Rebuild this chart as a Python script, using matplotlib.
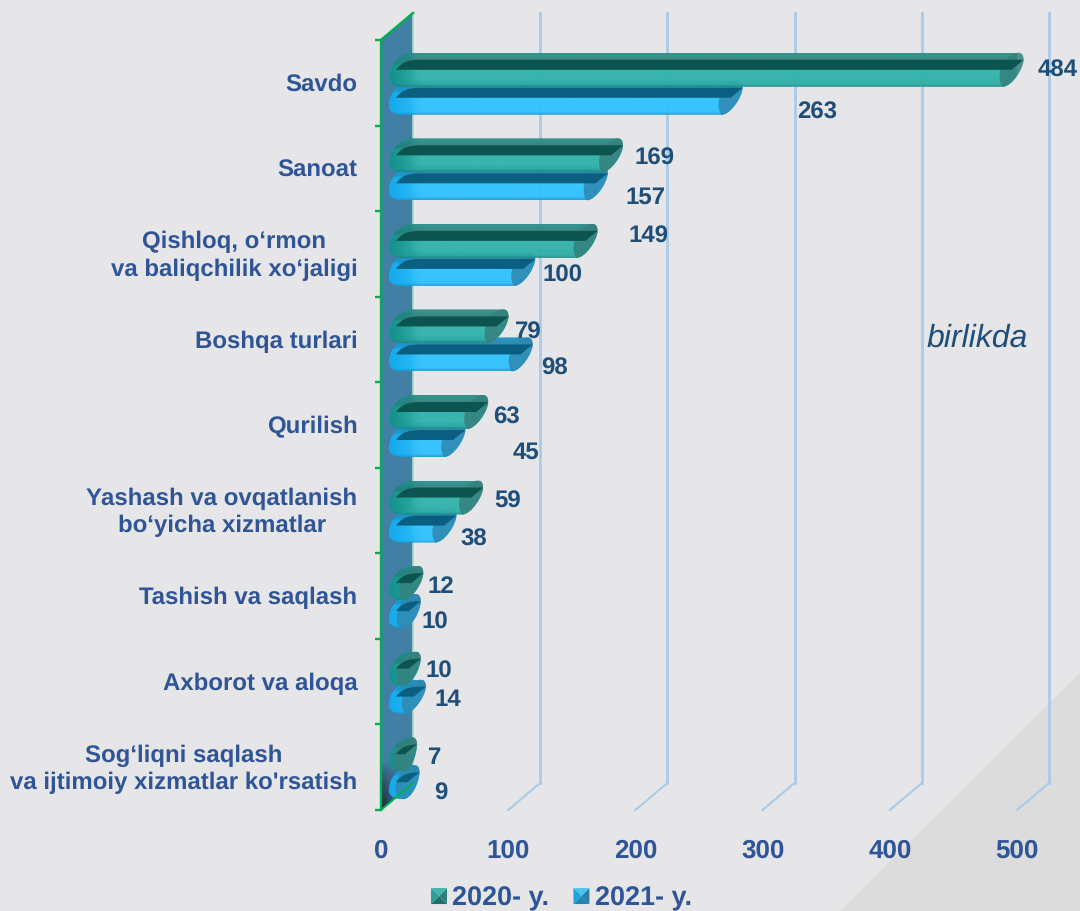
import numpy as np
import matplotlib
matplotlib.use("Agg")
import matplotlib.pyplot as plt
from matplotlib.path import Path
from matplotlib.patches import PathPatch, Polygon, Patch
from matplotlib.colors import LinearSegmentedColormap, to_rgba
from matplotlib.legend_handler import HandlerBase
from matplotlib.transforms import ScaledTranslation

categories = ["Savdo", "Sanoat", "Qishloq, o‘rmon\nva baliqchilik xo‘jaligi", "Boshqa turlari",
              "Qurilish", "Yashash va ovqatlanish\nbo‘yicha xizmatlar", "Tashish va saqlash",
              "Axborot va aloqa", "Sog‘liqni saqlash\nva ijtimoiy xizmatlar ko'rsatish"]
values_2020 = [484, 169, 149, 79, 63, 59, 12, 10, 7]
values_2021 = [263, 157, 100, 98, 45, 38, 10, 14, 9]
series_names = ["2020- y.", "2021- y."]
x_ticks = [0, 100, 200, 300, 400, 500]

# Layout (pixels of the 1080x911 canvas)
W, H = 1080, 911
AX_L, AX_R, AX_T, AX_B = 381, 1017, 40, 810
DX, DY = 32, 27
UX = 500 / (AX_R - AX_L)   # data units per pixel
UY = 9 / (AX_B - AX_T)
BLUE_TXT = "#2f5597"
NAVY_TXT = "#1f4e79"
GRID = "#a9cbea"
GREEN = "#00b050"
TEAL = dict(strip=["#2b8f8a", "#38807c"], band="#0b5450", body=["#1f9a94", "#31b3ab", "#2fafa8", "#1e8a85"],
            cap="#35807c", left="#0f8a85")
SKY = dict(strip=["#1b8fc0", "#2a86ad"], band="#0a5f80", body=["#1aa5e0", "#30c3ff", "#2fc0ff", "#1a9ad0"],
           cap="#2f88b0", left="#0ea5e8")
# value-label offset from the bar's data end, pixels (dx, dy from row centre)
LABEL_2020 = [(34, -12), (32, -10), (51, -17), (20, -7), (18, -7), (25, -9), (18, -9), (18, -10), (18, -9)]
LABEL_2021 = [(75, 30), (38, 29), (27, 22), (22, 29), (61, 28), (17, 29), (14, 26), (22, 18), (21, 26)]

plt.rcParams["font.family"] = ["Liberation Sans", "DejaVu Sans"]
plt.rcParams["text.hinting"] = "no_hinting"
plt.rcParams["text.hinting_factor"] = 1
plt.rcParams["text.kerning_factor"] = 0
fig = plt.figure(figsize=(W / 100, H / 100), dpi=100, facecolor="#e6e6e8")

# Soft diagonal background shape
bg = fig.add_axes([0, 0, 1, 1], zorder=0)
bg.set_xlim(0, W); bg.set_ylim(H, 0); bg.axis("off")
bg.add_patch(Polygon([(W, 673), (W, H), (840, H)], closed=True, fc="#dcdcdd", ec="none"))

ax = fig.add_axes([AX_L / W, 1 - AX_B / H, (AX_R - AX_L) / W, (AX_B - AX_T) / H], zorder=1)
ax.patch.set_alpha(0)
ax.set_xlim(0, 500)
ax.set_ylim(9, 0)
n = len(categories)
ddx, ddy = DX * UX, DY * UY


def gradient(path, colors, x0, x1, y0, y1, zorder, alpha=1.0):
    cmap = LinearSegmentedColormap.from_list("g", colors)
    im = ax.imshow(np.linspace(0, 1, 128).reshape(-1, 1), extent=[x0, x1, y1, y0], aspect="auto",
                   cmap=cmap, vmin=0, vmax=1, zorder=zorder, alpha=alpha, origin="upper")
    im.set_clip_path(PathPatch(path, transform=ax.transData))
    return im


# Side wall
wall = Path([(0, 0), (ddx, -ddy), (ddx, n - ddy), (0, n), (0, 0)])
ax.add_patch(PathPatch(wall, fc="#427fa4", ec="none", zorder=1, clip_on=False))
shade = np.zeros((64, 64, 4))
shade[..., :3] = (0.09, 0.14, 0.2)
shade[..., 3] = np.outer(np.linspace(0, 1, 64) ** 0.7, np.linspace(1, 0, 64) ** 1.2)
dark = ax.imshow(shade, extent=[0, 20, n, n - 48 * UY], aspect="auto", zorder=1.5, origin="upper")
dark.set_clip_path(PathPatch(wall, transform=ax.transData))
ax.plot([ddx, ddx], [-ddy, n - ddy], color="#a6dcc6", lw=1.2, zorder=1.6, clip_on=False)

# Gridlines on the back wall and floor
for t in x_ticks[1:]:
    ax.plot([t + ddx, t + ddx], [n - ddy, -ddy], color=GRID, lw=2.0, zorder=2, clip_on=False)
    ax.plot([t, t + ddx], [n, n - ddy], color=GRID, lw=1.5, zorder=2, clip_on=False)
ax.plot([0, ddx], [0, -ddy], color=GREEN, lw=1.8, zorder=6, clip_on=False)
ax.plot([0, ddx], [n, n - ddy], color=GREEN, lw=1.4, zorder=6, clip_on=False)


def px(dx):
    return dx * UX


def py(dy):
    return dy * UY


def draw_bar(v, top, st, z):
    """Slanted capsule: v in data units, top in row units."""
    L = px(8)
    R = v + px(27)
    b = top + py(34)
    xbr = max(R - px(21), L + px(14))
    xtl = min(L + px(24), R - px(4))
    sil = Path(
        [(L + px(14), b), (xbr, b),
         (xbr + px(9), b), (R, b - py(18)), (R, b - py(27)),
         (R, b - py(32)), (R - px(2), top), (R - px(5), top),
         (xtl, top),
         (L + px(11), top), (L, top + py(12)), (L, top + py(25)),
         (L, top + py(31)), (L + px(6), b), (L + px(14), b), (L + px(14), b)],
        [Path.MOVETO, Path.LINETO, Path.CURVE4, Path.CURVE4, Path.CURVE4, Path.CURVE4, Path.CURVE4, Path.CURVE4,
         Path.LINETO, Path.CURVE4, Path.CURVE4, Path.CURVE4, Path.CURVE4, Path.CURVE4, Path.CURVE4, Path.LINETO])
    # Body: dark strip on top, bright tube below
    colors = [st["strip"][0]] * 2 + [st["strip"][1]] * 2 + [st["body"][1]] * 5 + [st["body"][2]] * 2 + [st["body"][3]]
    gradient(sil, colors, 0, R, top, b, z, alpha=0.95)
    # Bright left end
    end = gradient(sil, [to_rgba(st["left"], 0.85), to_rgba(st["left"], 0)], L, L + px(32), top, b, z + 0.01)
    end.set_array(np.linspace(0, 1, 128).reshape(1, -1))
    # End cap
    cap = Path(
        [(xbr, b),
         (xbr + px(9), b), (R, b - py(18)), (R, b - py(27)),
         (R, b - py(32)), (R - px(2), top), (R - px(5), top),
         (R - px(13), top), (R - px(24), b - py(24)), (R - px(24), b - py(10)),
         (R - px(24), b - py(3)), (R - px(21), b), (xbr, b), (xbr, b)],
        [Path.MOVETO, Path.CURVE4, Path.CURVE4, Path.CURVE4, Path.CURVE4, Path.CURVE4, Path.CURVE4,
         Path.CURVE4, Path.CURVE4, Path.CURVE4, Path.CURVE4, Path.CURVE4, Path.CURVE4, Path.CLOSEPOLY])
    ax.add_patch(PathPatch(cap, fc=st["cap"], ec="none", alpha=0.85, zorder=z + 0.02, clip_on=False))
    # Dark band
    by0, by1 = top + py(7), top + py(17)
    band = Path(
        [(L + px(7), by1), (L + px(12), by0 + py(3)), (L + px(18), by0), (L + px(32), by0),
         (R, by0), (R - px(12), by1), (L + px(7), by1)],
        [Path.MOVETO, Path.CURVE4, Path.CURVE4, Path.CURVE4, Path.LINETO, Path.LINETO, Path.CLOSEPOLY])
    ax.add_patch(PathPatch(band, fc=st["band"], ec="none", zorder=z + 0.03, clip_on=False))


for i in range(n):
    c = i + 0.5
    draw_bar(values_2021[i], c + py(-2), SKY, 3 + 0.1 * i)
    draw_bar(values_2020[i], c + py(-30), TEAL, 4 + 0.1 * i)
    ox, oy = LABEL_2020[i]
    ax.text(values_2020[i] + px(ox + 27), c + py(oy), str(values_2020[i]), color=NAVY_TXT, fontsize=17.3,
            fontweight="bold", ha="center", va="center", zorder=7, clip_on=False)
    ox, oy = LABEL_2021[i]
    ax.text(values_2021[i] + px(ox + 27), c + py(oy), str(values_2021[i]), color=NAVY_TXT, fontsize=17.3,
            fontweight="bold", ha="center", va="center", zorder=7, clip_on=False)

ax.text(0.937, 0.612, "birlikda", transform=ax.transAxes, color=NAVY_TXT, fontsize=23.2, style="italic",
        ha="center", va="center", zorder=7, clip_on=False)

# Axes furniture
for s in ["top", "right", "bottom"]:
    ax.spines[s].set_visible(False)
ax.spines["left"].set_color(GREEN)
ax.spines["left"].set_linewidth(1.7)
ax.spines["left"].set_zorder(6)
ax.set_yticks(np.arange(n + 1))
ax.set_yticklabels([])
ax.tick_params(axis="y", which="major", color=GREEN, width=1.7, length=4.5, direction="out")
ax.set_yticks(np.arange(n) + 0.5, minor=True)
ax.set_yticklabels(categories, minor=True, fontsize=17.6, fontweight="bold", color=BLUE_TXT, ma="center",
                   linespacing=1.28)
ax.tick_params(axis="y", which="minor", length=0, pad=17)
shift = ScaledTranslation(0, -1.5 / 72, fig.dpi_scale_trans)
for lab in ax.get_yticklabels(minor=True):
    lab.set_verticalalignment("center")
    lab.set_transform(lab.get_transform() + shift)
ax.set_xticks(x_ticks)
ax.set_xticklabels([str(t) for t in x_ticks], fontsize=18.5, fontweight="bold", color=BLUE_TXT)
ax.tick_params(axis="x", length=0, pad=21)


class Pyramid(HandlerBase):
    def __init__(self, colors):
        super().__init__()
        self.colors = colors

    def create_artists(self, legend, orig, xd, yd, w, h, fs, trans):
        s = 11.5
        x0 = w - s
        y0 = (h - s) / 2
        cx, cy = x0 + s / 2, y0 + s / 2
        cor = [(x0, y0), (x0 + s, y0), (x0 + s, y0 + s), (x0, y0 + s)]
        out = []
        for k in range(4):
            out.append(Polygon([cor[k], cor[(k + 1) % 4], (cx, cy)], closed=True, fc=self.colors[k], ec="none",
                               transform=trans))
        return out


h1, h2 = Patch(label=series_names[0]), Patch(label=series_names[1])
ax.legend(handles=[h1, h2], handler_map={h1: Pyramid(["#1f6f6b", "#2c7f7b", "#3fb5ad", "#2b9c96"]),
                                         h2: Pyramid(["#1f87b5", "#2a7da3", "#4cc4f0", "#1fa5dc"])},
          loc="lower left", bbox_to_anchor=((431 - AX_L) / (AX_R - AX_L), (AX_B - 911) / (AX_B - AX_T)),
          ncol=2, frameon=False, prop=dict(size=19.2, weight="bold"), labelcolor=BLUE_TXT,
          handlelength=0.6, handletextpad=0.2, columnspacing=0.9, borderpad=0, borderaxespad=0)

fig.savefig("out.png", dpi=100, facecolor=fig.get_facecolor())
